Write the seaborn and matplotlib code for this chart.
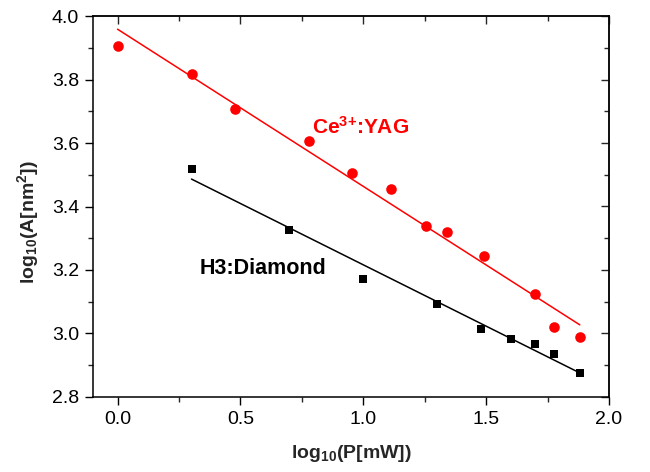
import matplotlib
matplotlib.use('Agg')
import matplotlib.pyplot as plt
import seaborn as sns
from matplotlib.ticker import MultipleLocator

# values
yag_x = [0.0, 0.301, 0.477, 0.778, 0.954, 1.114, 1.255, 1.342, 1.491, 1.699, 1.778, 1.881]
yag_y = [3.906, 3.817, 3.707, 3.605, 3.506, 3.455, 3.338, 3.320, 3.243, 3.123, 3.021, 2.990]
dia_x = [0.301, 0.699, 1.0, 1.301, 1.477, 1.602, 1.699, 1.778, 1.881]
dia_y = [3.518, 3.327, 3.173, 3.094, 3.013, 2.983, 2.968, 2.935, 2.877]

sns.set_style('white')
plt.rcParams['font.family'] = ['Liberation Sans', 'DejaVu Sans']
plt.rcParams['mathtext.fontset'] = 'custom'
plt.rcParams['mathtext.rm'] = 'Liberation Sans'
plt.rcParams['mathtext.bf'] = 'Liberation Sans:bold'

fig = plt.figure(figsize=(6.5, 4.72), dpi=100)
ax = fig.add_axes([0.143, 0.159, 0.794, 0.807])

sns.regplot(x=yag_x, y=yag_y, ax=ax, ci=None, color='red', marker='o',
            scatter_kws={'s': 58, 'linewidths': 0, 'alpha': 1, 'zorder': 3},
            line_kws={'lw': 1.1, 'zorder': 2})
sns.regplot(x=dia_x, y=dia_y, ax=ax, ci=None, color='black', marker='s',
            scatter_kws={'s': 40, 'linewidths': 0, 'alpha': 1, 'zorder': 3},
            line_kws={'lw': 1.1, 'zorder': 2})

ax.set_xlim(-0.1, 2.0)
ax.set_ylim(2.8, 4.0)
ax.xaxis.set_major_locator(MultipleLocator(0.5))
ax.xaxis.set_minor_locator(MultipleLocator(0.25))
ax.yaxis.set_major_locator(MultipleLocator(0.2))
ax.yaxis.set_minor_locator(MultipleLocator(0.1))
ax.tick_params(which='major', direction='out', length=6, width=1, labelsize=14, pad=4,
               bottom=True, left=True, colors='black')
ax.tick_params(which='minor', direction='out', length=3.5, width=1, bottom=True, left=True)
for s in ax.spines.values():
    s.set_color('black')
    s.set_linewidth(1.1)

# mirrored ticks on top/right point inward
top = ax.secondary_xaxis('top')
top.xaxis.set_major_locator(MultipleLocator(0.5))
top.xaxis.set_minor_locator(MultipleLocator(0.25))
top.tick_params(which='major', direction='in', length=6, width=1, labeltop=False)
top.tick_params(which='minor', direction='in', length=3.5, width=1)
right = ax.secondary_yaxis('right')
right.yaxis.set_major_locator(MultipleLocator(0.2))
right.yaxis.set_minor_locator(MultipleLocator(0.1))
right.tick_params(which='major', direction='in', length=6, width=1, labelright=False)
right.tick_params(which='minor', direction='in', length=3.5, width=1)
for sec in (top, right):
    for s in sec.spines.values():
        s.set_linewidth(1.1)

ax.set_xlabel(r'$\mathbf{log_{10}}$(P[mW])', fontsize=14, fontweight='bold')
ax.set_ylabel(r'$\mathbf{log_{10}}$(A[nm$\mathbf{^2}$])', fontsize=14, fontweight='bold')
ax.xaxis.set_label_coords(0.5, -0.12)
ax.yaxis.set_label_coords(-0.10, 0.46)

ax.text(0.79, 3.65, r'Ce$\mathbf{^{3{+}}}$:YAG', color='red', fontsize=15,
        fontweight='bold', va='center', ha='left')
ax.text(0.333, 3.205, 'H3:Diamond', color='black', fontsize=15.5,
        fontweight='bold', va='center', ha='left')

fig.savefig('out.png', dpi=100)
